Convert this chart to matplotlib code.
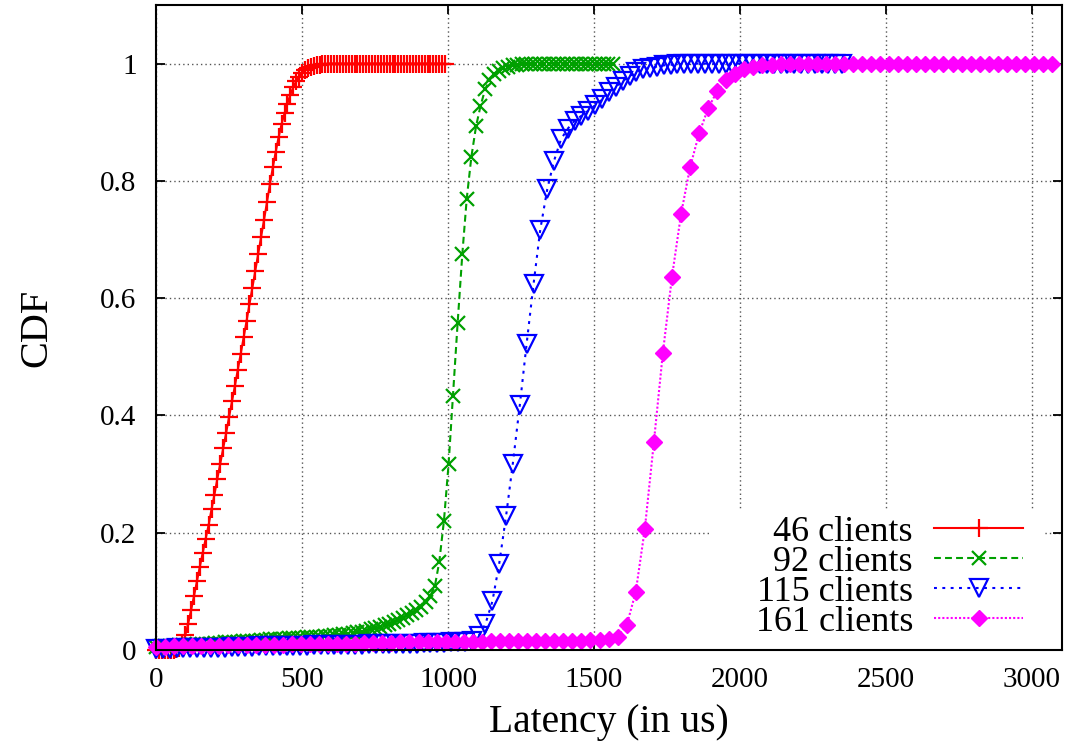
import matplotlib
matplotlib.use("Agg")
import matplotlib.pyplot as plt
from matplotlib.patches import Rectangle

plt.rcParams['font.family'] = ['Liberation Serif', 'DejaVu Serif']

labels = ['46 clients', '92 clients', '115 clients', '161 clients']

lat_46 = [0, 10, 20, 30, 40, 50, 60, 70, 80, 90,
          100, 110, 120, 130, 140, 150, 160, 170, 180, 190,
          200, 210, 220, 230, 240, 250, 260, 270, 280, 290,
          300, 310, 320, 330, 340, 350, 360, 370, 380, 390,
          400, 410, 420, 430, 440, 450, 460, 470, 480, 490,
          500, 510, 520, 530, 540, 550, 560, 570, 580, 590,
          600, 610, 620, 630, 640, 650, 660, 670, 680, 690,
          700, 710, 720, 730, 740, 750, 760, 770, 780, 790,
          800, 810, 820, 830, 840, 850, 860, 870, 880, 890,
          900, 910, 920, 930, 940, 950, 960, 970, 980, 990]
cdf_46 = [0, 0, 0, 0, 0, 0, 0, 0.001, 0.003, 0.008,
          0.025, 0.045, 0.068, 0.092, 0.117, 0.142, 0.166, 0.19, 0.213, 0.24,
          0.265, 0.292, 0.318, 0.344, 0.37, 0.397, 0.424, 0.45, 0.478, 0.505,
          0.533, 0.561, 0.59, 0.618, 0.647, 0.676, 0.705, 0.734, 0.764, 0.794,
          0.823, 0.85, 0.875, 0.897, 0.915, 0.932, 0.947, 0.96, 0.97, 0.978,
          0.984, 0.989, 0.992, 0.994, 0.996, 0.997, 0.998, 0.999, 0.999, 1.0,
          1.0, 1.0, 1.0, 1.0, 1.0, 1.0, 1.0, 1.0, 1.0, 1.0,
          1.0, 1.0, 1.0, 1.0, 1.0, 1.0, 1.0, 1.0, 1.0, 1.0,
          1.0, 1.0, 1.0, 1.0, 1.0, 1.0, 1.0, 1.0, 1.0, 1.0,
          1.0, 1.0, 1.0, 1.0, 1.0, 1.0, 1.0, 1.0, 1.0, 1.0]

lat_92 = [0, 16, 31, 47, 63, 78, 94, 110, 125, 141,
          157, 172, 188, 203, 219, 235, 250, 266, 282, 297,
          313, 329, 344, 360, 376, 391, 407, 423, 438, 454,
          470, 485, 501, 516, 532, 548, 563, 579, 595, 610,
          626, 642, 657, 673, 689, 704, 720, 736, 751, 767,
          783, 798, 814, 829, 845, 861, 876, 892, 908, 923,
          939, 955, 970, 986, 1002, 1017, 1033, 1049, 1064, 1080,
          1096, 1111, 1127, 1142, 1158, 1174, 1189, 1205, 1221, 1236,
          1252, 1268, 1283, 1299, 1315, 1330, 1346, 1362, 1377, 1393,
          1409, 1424, 1440, 1455, 1471, 1487, 1502, 1518, 1534, 1549,
          1565]
cdf_92 = [0.005, 0.006, 0.006, 0.007, 0.007, 0.008, 0.008, 0.009, 0.009, 0.010,
          0.010, 0.011, 0.011, 0.012, 0.012, 0.013, 0.013, 0.014, 0.014, 0.015,
          0.015, 0.016, 0.016, 0.017, 0.017, 0.018, 0.018, 0.019, 0.019, 0.020,
          0.020, 0.021, 0.021, 0.022, 0.022, 0.023, 0.023, 0.024, 0.024, 0.025,
          0.026, 0.027, 0.028, 0.029, 0.030, 0.031, 0.033, 0.035, 0.037, 0.039,
          0.042, 0.045, 0.048, 0.051, 0.055, 0.059, 0.063, 0.068, 0.074, 0.081,
          0.092, 0.109, 0.150, 0.220, 0.317, 0.434, 0.558, 0.675, 0.769, 0.841,
          0.893, 0.927, 0.956, 0.972, 0.982, 0.988, 0.992, 0.995, 0.997, 0.998,
          0.999, 0.999, 1.0, 1.0, 1.0, 1.0, 1.0, 1.0, 1.0, 1.0,
          1.0, 1.0, 1.0, 1.0, 1.0, 1.0, 1.0, 1.0, 1.0, 1.0,
          1.0]

lat_115 = [0, 24, 47, 71, 94, 118, 141, 165, 188, 212,
           235, 259, 282, 306, 329, 353, 376, 400, 423, 447,
           470, 494, 517, 541, 564, 588, 611, 635, 658, 682,
           705, 729, 752, 776, 799, 823, 846, 870, 893, 917,
           940, 964, 987, 1011, 1034, 1058, 1081, 1105, 1128, 1152,
           1175, 1199, 1222, 1246, 1269, 1293, 1316, 1340, 1363, 1387,
           1410, 1434, 1457, 1481, 1504, 1528, 1551, 1575, 1598, 1622,
           1645, 1669, 1692, 1716, 1739, 1763, 1786, 1810, 1833, 1857,
           1880, 1904, 1927, 1951, 1974, 1998, 2021, 2045, 2068, 2092,
           2115, 2139, 2162, 2186, 2209, 2233, 2256, 2280, 2303, 2327,
           2350]
cdf_115 = [0.002, 0.002, 0.002, 0.003, 0.003, 0.003, 0.003, 0.004, 0.004, 0.004,
           0.004, 0.005, 0.005, 0.005, 0.005, 0.006, 0.006, 0.006, 0.006, 0.007,
           0.007, 0.007, 0.007, 0.008, 0.008, 0.008, 0.008, 0.009, 0.009, 0.009,
           0.009, 0.010, 0.010, 0.010, 0.010, 0.011, 0.011, 0.011, 0.011, 0.012,
           0.012, 0.012, 0.012, 0.013, 0.013, 0.014, 0.016, 0.024, 0.044, 0.083,
           0.146, 0.229, 0.318, 0.418, 0.521, 0.624, 0.717, 0.786, 0.834, 0.871,
           0.889, 0.903, 0.911, 0.920, 0.929, 0.939, 0.952, 0.961, 0.970, 0.979,
           0.985, 0.990, 0.993, 0.995, 0.997, 0.998, 0.999, 0.999, 1.0, 1.0,
           1.0, 1.0, 1.0, 1.0, 1.0, 1.0, 1.0, 1.0, 1.0, 1.0,
           1.0, 1.0, 1.0, 1.0, 1.0, 1.0, 1.0, 1.0, 1.0, 1.0,
           1.0]

lat_161 = [0, 31, 62, 93, 124, 155, 186, 217, 248, 279,
           310, 341, 372, 403, 434, 465, 496, 527, 558, 589,
           620, 651, 682, 713, 744, 775, 806, 837, 868, 899,
           930, 961, 992, 1023, 1054, 1085, 1116, 1147, 1178, 1209,
           1240, 1271, 1302, 1333, 1364, 1395, 1426, 1457, 1488, 1519,
           1550, 1581, 1612, 1643, 1674, 1705, 1736, 1767, 1798, 1829,
           1860, 1891, 1922, 1953, 1984, 2015, 2046, 2077, 2108, 2139,
           2170, 2201, 2232, 2263, 2294, 2325, 2356, 2387, 2418, 2449,
           2480, 2511, 2542, 2573, 2604, 2635, 2666, 2697, 2728, 2759,
           2790, 2821, 2852, 2883, 2914, 2945, 2976, 3007, 3038, 3069]
cdf_161 = [0.005, 0.005, 0.006, 0.006, 0.006, 0.007, 0.007, 0.007, 0.008, 0.008,
           0.008, 0.008, 0.009, 0.009, 0.009, 0.010, 0.010, 0.010, 0.010, 0.011,
           0.011, 0.011, 0.011, 0.012, 0.012, 0.012, 0.012, 0.013, 0.013, 0.013,
           0.013, 0.013, 0.014, 0.014, 0.014, 0.014, 0.014, 0.015, 0.015, 0.015,
           0.015, 0.015, 0.015, 0.016, 0.016, 0.016, 0.016, 0.016, 0.017, 0.017,
           0.018, 0.023, 0.042, 0.099, 0.206, 0.354, 0.507, 0.636, 0.743, 0.823,
           0.881, 0.924, 0.953, 0.972, 0.983, 0.991, 0.995, 0.997, 0.998, 0.999,
           1.0, 1.0, 1.0, 1.0, 1.0, 1.0, 1.0, 1.0, 1.0, 1.0,
           1.0, 1.0, 1.0, 1.0, 1.0, 1.0, 1.0, 1.0, 1.0, 1.0,
           1.0, 1.0, 1.0, 1.0, 1.0, 1.0, 1.0, 1.0, 1.0, 1.0]

x_ticks = [0, 500, 1000, 1500, 2000, 2500, 3000]
y_ticks = [0, 0.2, 0.4, 0.6, 0.8, 1]
y_tick_labels = ['0', '0.2', '0.4', '0.6', '0.8', '1']

pairs = [(lat_46, cdf_46), (lat_92, cdf_92), (lat_115, cdf_115), (lat_161, cdf_161)]
for xs, ys in pairs:
    assert len(xs) == len(ys), (len(xs), len(ys))

styles = [
    dict(color='#ff0000', linestyle='-', marker='+', markersize=12.5, markeredgewidth=1.6),
    dict(color='#00a000', linestyle=(0, (3.3, 2.0)), marker='x', markersize=10.5, markeredgewidth=1.6),
    dict(color='#0000ff', linestyle=(0, (1.4, 2.6)), marker='v', markersize=13,
         markerfacecolor='none', markeredgewidth=1.6),
    dict(color='#ff00ff', linestyle=(0, (1.0, 1.0)), marker='D', markersize=8, markeredgewidth=1.0),
]

fig = plt.figure(figsize=(10.71, 7.46), dpi=100)
ax = fig.add_axes([0.1457, 0.1287, 0.8459, 0.8646])

for (xs, ys), lab, st in zip(pairs, labels, styles):
    ax.plot(xs, ys, label=lab, linewidth=1.5, clip_on=False, zorder=3, **st)

ax.set_xlim(0, 3103)
ax.set_ylim(0, 1.1)
ax.set_xticks(x_ticks)
ax.set_yticks(y_ticks)
ax.set_yticklabels(y_tick_labels)

ax.set_axisbelow(True)
ax.grid(True, color='#555555', linestyle=(0, (1, 2.2)), linewidth=1.0)

# opaque key background (hides grid behind key)
ax.add_patch(Rectangle((0.614, 0.0), 0.365, 0.217, transform=ax.transAxes,
                       facecolor='white', edgecolor='none', zorder=1))

for sp in ax.spines.values():
    sp.set_linewidth(1.5)
    sp.set_zorder(4)

ax.tick_params(direction='in', length=6.5, width=1.3, top=True, right=True,
               labelsize=21)
ax.tick_params(axis='x', pad=12)
ax.tick_params(axis='y', pad=14)

ax.set_xlabel('Latency (in us)', fontsize=28.5, labelpad=8)
ax.set_ylabel('CDF', fontsize=29, labelpad=32)

leg = ax.legend(loc='lower right', bbox_to_anchor=(0.973, -0.005), frameon=False,
                markerfirst=False, fontsize=26, handlelength=2.47, handletextpad=0.58,
                labelspacing=-0.09, numpoints=1, borderaxespad=0.0)

fig.savefig('out.png', dpi=100)
